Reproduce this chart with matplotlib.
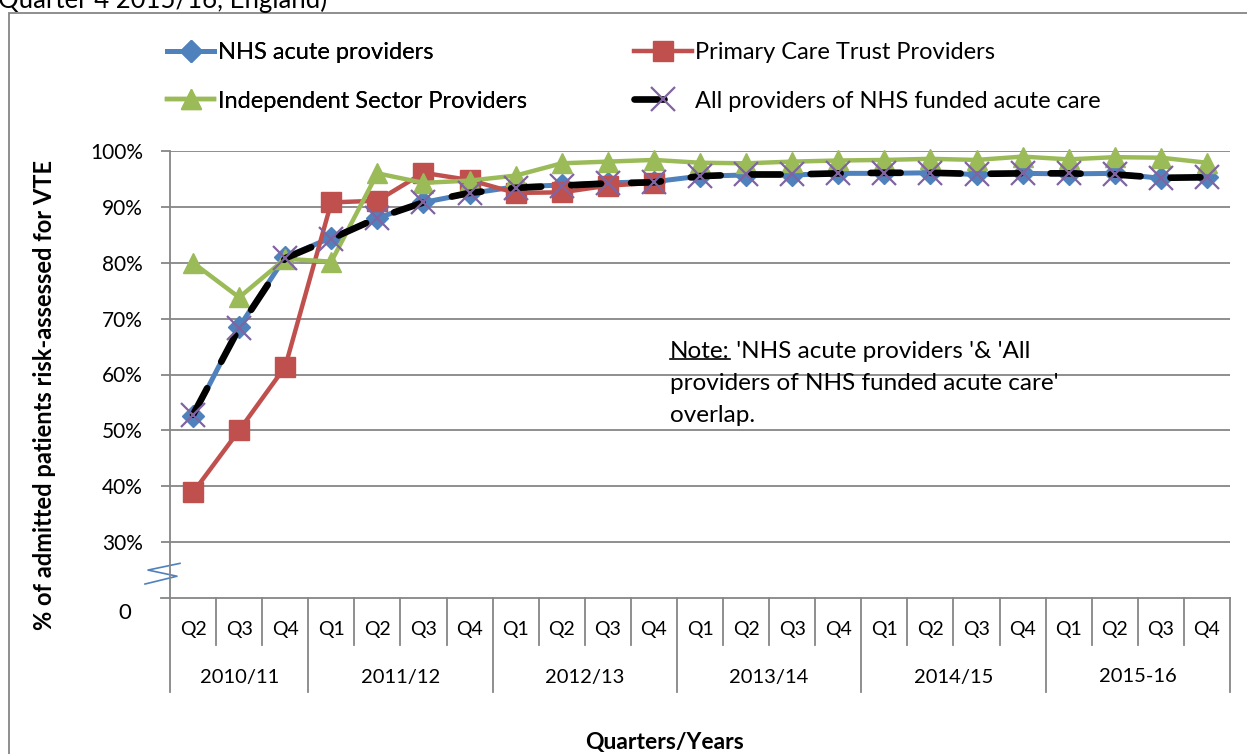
import numpy as np
import matplotlib
matplotlib.use("Agg")
import matplotlib.pyplot as plt
import matplotlib.transforms as mtrans
from matplotlib.patches import Rectangle
from matplotlib.lines import Line2D

plt.rcParams['font.family'] = ['Lato', 'DejaVu Sans']

quarters = ['Q2', 'Q3', 'Q4'] + ['Q1', 'Q2', 'Q3', 'Q4'] * 5
years = ['2010/11', '2011/12', '2012/13', '2013/14', '2014/15', '2015-16']
year_len = [3, 4, 4, 4, 4, 4]

nhs_acute = [52.5, 68.5, 81.0, 84.5, 88.0, 90.8, 92.4, 93.6, 93.9, 94.3, 94.5, 95.5,
             95.7, 95.7, 96.0, 96.0, 96.1, 95.8, 96.0, 95.9, 96.0, 95.1, 95.4]
pct = [38.9, 50.0, 61.4, 90.8, 91.1, 96.1, 94.8, 92.5, 92.6, 93.8, 94.3] + [np.nan] * 12
indep = [80.0, 73.8, 80.7, 80.2, 96.0, 94.3, 94.7, 95.6, 97.8, 98.1, 98.4, 97.9,
         97.8, 98.1, 98.3, 98.4, 98.6, 98.4, 99.0, 98.5, 98.9, 98.8, 97.9]
all_prov = [52.8, 68.3, 80.8, 84.3, 88.0, 90.8, 92.5, 93.4, 93.8, 94.2, 94.4, 95.5,
            95.8, 95.8, 96.0, 96.1, 96.1, 95.9, 96.0, 96.0, 95.8, 95.2, 95.3]

W, H = 1247, 754
fig = plt.figure(figsize=(W / 100, H / 100), dpi=100)

# plot area in pixels: x 170..1230, y 151 (100%) .. 598 (axis)
ax = fig.add_axes([170 / W, 1 - 598 / H, 1060 / W, 447 / H])
x = np.arange(len(quarters))
grey = '#868686'

l1, = ax.plot(x, nhs_acute, color='#4F81BD', lw=3.6, marker='D', ms=11.5,
              label='NHS acute providers', clip_on=False, zorder=3)
l2, = ax.plot(x, pct, color='#C0504D', lw=3.2, marker='s', ms=14,
              label='Primary Care Trust Providers', clip_on=False, zorder=4)
l3, = ax.plot(x, indep, color='#9BBB59', lw=3.2, marker='^', ms=15,
              label='Independent Sector Providers', clip_on=False, zorder=5)
l4, = ax.plot(x, all_prov, color='black', lw=4.8, ls=(0, (4.5, 4.5)), dash_capstyle='round',
              marker='x', ms=17, mec='#8064A2', mew=1.6,
              label='All providers of NHS funded acute care', clip_on=False, zorder=6)

ax.set_xlim(-0.5, len(quarters) - 0.5)
ax.set_ylim(20, 100)
ax.set_yticks(range(30, 101, 10))
ax.set_yticklabels([f'{v}%' for v in range(30, 101, 10)], fontsize=15)
ax.yaxis.grid(True, color=grey, lw=1.3)
ax.set_axisbelow(True)
ax.tick_params(axis='y', length=6.5, width=1.3, color=grey, pad=13)
ax.set_xticks([])
for s in ['top', 'right']:
    ax.spines[s].set_visible(False)
for s in ['left', 'bottom']:
    ax.spines[s].set_color(grey)
    ax.spines[s].set_linewidth(1.3)
ax.spines['left'].set_bounds(20, 100)

# tick and "0" label at the broken axis
ax.plot([-0.5 - 9 / 46.09, -0.5], [20, 20], color=grey, lw=1.3, clip_on=False)
ax.text(-45 / 1060, -15 / 447, '0', transform=ax.transAxes, ha='center', va='center',
        fontsize=16)

# axis break mark
brk = mtrans.blended_transform_factory(fig.transFigure, ax.transData)
bx = np.array([180, 148, 177, 145]) / W
by = [26.2, 25.0, 23.9, 22.5]
ax.plot(bx, by, color='#4F81BD', lw=1.2, transform=brk, clip_on=False)

# multi-level category axis
tr = mtrans.blended_transform_factory(ax.transData, ax.transAxes)
for i, q in enumerate(quarters):
    ax.text(i, -32 / 447, q, transform=tr, ha='center', va='center', fontsize=14)
edges = np.concatenate([[0], np.cumsum(year_len)]) - 0.5
for k in range(len(quarters) + 1):
    xe = k - 0.5
    bottom = -94 / 447 if xe in edges else -47 / 447
    ax.plot([xe, xe], [0, bottom], color=grey, lw=1.3, transform=tr, clip_on=False)
for j, yl in enumerate(years):
    xc = (edges[j] + edges[j + 1]) / 2
    ax.text(xc, -79 / 447, yl, transform=tr, ha='center', va='center', fontsize=14.5)

ax.set_ylabel('% of admitted patients risk-assessed for VTE', fontsize=17,
              fontweight='bold')
ax.yaxis.set_label_coords(-114 / 1060, 0.454)
fig.text(665 / W, 1 - 742 / H, 'Quarters/Years', ha='center', va='center',
         fontsize=16.5, fontweight='bold')

# note
note_x = (670 - 170) / 1060
t1 = ax.text(note_x, (598 - 358) / 447, "Note:", transform=ax.transAxes,
             fontsize=17.5, va='baseline', ha='left')
ax.annotate(" 'NHS acute providers '& 'All", xy=(1, 0), xycoords=t1,
            fontsize=17.5, va='bottom', ha='left')
ax.text(note_x, (598 - 390) / 447, "providers of NHS funded acute care'",
        transform=ax.transAxes, fontsize=17.5, va='baseline', ha='left')
ax.text(note_x, (598 - 422) / 447, "overlap.", transform=ax.transAxes,
        fontsize=17.5, va='baseline', ha='left')

# legend, one per column
leg_kw = dict(frameon=False, loc='upper left', fontsize=17, handletextpad=0.15,
              labelspacing=1.17, borderpad=0, borderaxespad=0)
leg1 = fig.legend([l1, l3], [l1.get_label(), l3.get_label()],
                  bbox_to_anchor=(167 / W, 1 - 42 / H), handlelength=2.0, **leg_kw)
fig.legend([l2, l4], [l2.get_label(), l4.get_label()],
           bbox_to_anchor=(634 / W, 1 - 42 / H), handlelength=2.45, **leg_kw)
fig.add_artist(leg1)

# outer chart frame and clipped title
fig.patches.append(Rectangle((9 / W, -0.1), 1.2, 1.1 - 13 / H,
                             transform=fig.transFigure, fill=False,
                             edgecolor=grey, lw=1.3))
fig.text(-2 / W, 1 - 8 / H, 'Quarter 4 2015/16, England)', ha='left',
         va='baseline', fontsize=18.5)

# underline "Note:"
fig.canvas.draw()
bb = t1.get_window_extent()
uy = bb.y0 + 0.14 * bb.height
fig.add_artist(Line2D([bb.x0 / W, bb.x1 / W], [uy / H, uy / H], color='black', lw=1.2))

fig.savefig('out.png', dpi=100)
